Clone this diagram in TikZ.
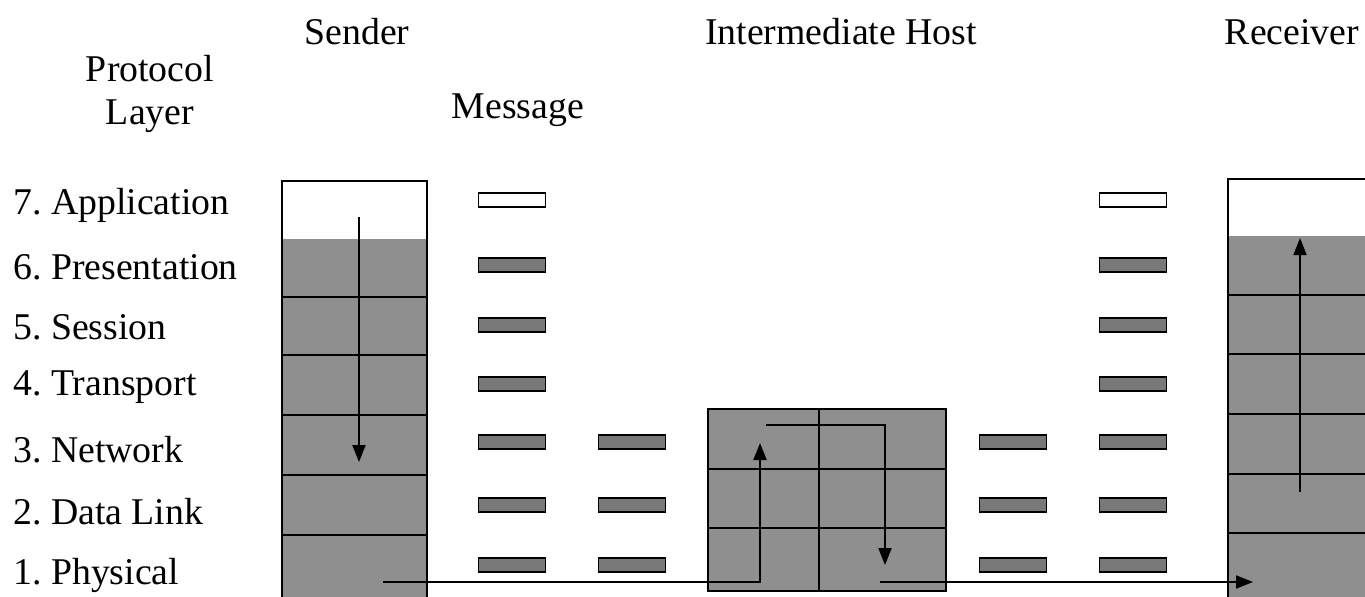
\documentclass[tikz,border=0pt]{standalone}
\usepackage{fontspec}
\setmainfont{Liberation Serif}
\usetikzlibrary{arrows.meta, positioning}
\definecolor{layerGray}{gray}{0.56}
\definecolor{barGray}{gray}{0.47}

\begin{document}
\frenchspacing
\begin{tikzpicture}[x=0.02cm, y=-0.02cm,
    every node/.style={font=\fontsize{21.5}{25}\selectfont},
    msgbar/.style={draw, line width=1pt, fill=barGray, minimum width=1.34cm, minimum height=0.28cm, inner sep=0pt},
    flow/.style={line width=1.1pt, -{Triangle[length=0.34cm, width=0.26cm]}},
    grid/.style={line width=1pt}]
    \useasboundingbox (0,0) rectangle (1365,596);
    \clip (0,0) rectangle (1365,596);

    % Headings
    \node (sender) at (357,32) {Sender};
    \node (host) at (841,32) {Intermediate Host};
    \node (receiver) at (1292,32) {Receiver};
    \node[align=center] (layer) at (150,94) {Protocol\\Layer};
    \node (message) at (518,110) {Message};

    % Layer names
    \foreach \n/\t/\y in {7/Application/205, 6/Presentation/267, 5/Session/327, 4/Transport/387, 3/Network/450, 2/Data Link/512, 1/Physical/575}
        \node[anchor=west, inner xsep=0pt] (lay\n) at (13,\y) {\n. \t};

    % Sender stack
    \fill[layerGray] (282,239) rectangle (427,600);
    \draw[grid] (282,181) rectangle (427,600);
    \foreach \y in {297,355,415,475,535}
        \draw[grid] (282,\y) -- (427,\y);

    % Intermediate host
    \fill[layerGray] (708,409) rectangle (946,591);
    \draw[grid] (708,409) rectangle (946,591);
    \draw[grid] (708,469) -- (946,469);
    \draw[grid] (708,528) -- (946,528);
    \draw[grid] (819,409) -- (819,591);

    % Receiver stack
    \fill[layerGray] (1228,236) rectangle (1380,600);
    \draw[grid] (1228,179) rectangle (1380,600);
    \foreach \y in {295,354,414,474,533}
        \draw[grid] (1228,\y) -- (1380,\y);

    % Messages
    \node[msgbar, fill=white] (sm7) at (512,200) {};
    \node[msgbar, fill=white] (rm7) at (1133,200) {};
    \foreach \r/\y in {6/265, 5/325, 4/384, 3/442, 2/505, 1/565} {
        \node[msgbar] (sm\r) at (512,\y) {};
        \node[msgbar] (rm\r) at (1133,\y) {};
    }
    \foreach \r/\y in {3/442, 2/505, 1/565} {
        \node[msgbar] (lm\r) at (632,\y) {};
        \node[msgbar] (hm\r) at (1013,\y) {};
    }

    % Flow of the message
    \coordinate (sendTop) at (359,217);
    \coordinate (sendDown) at (359,462);
    \coordinate (sendOut) at (383,582);
    \coordinate (hostBase) at (760,582);
    \coordinate (hostUp) at (760,443);
    \coordinate (hostLeft) at (766,425);
    \coordinate (hostRight) at (885,425);
    \coordinate (hostDown) at (885,565);
    \coordinate (hostOut) at (880,582);
    \coordinate (recvIn) at (1253,582);
    \coordinate (recvBase) at (1300,492);
    \coordinate (recvTop) at (1300,238);

    \draw[flow] (sendTop) -- (sendDown);
    \draw[flow] (sendOut) -- (hostBase) -- (hostUp);
    \draw[flow] (hostLeft) -- (hostRight) -- (hostDown);
    \draw[flow] (hostOut) -- (recvIn);
    \draw[flow] (recvBase) -- (recvTop);
\end{tikzpicture}
\end{document}
